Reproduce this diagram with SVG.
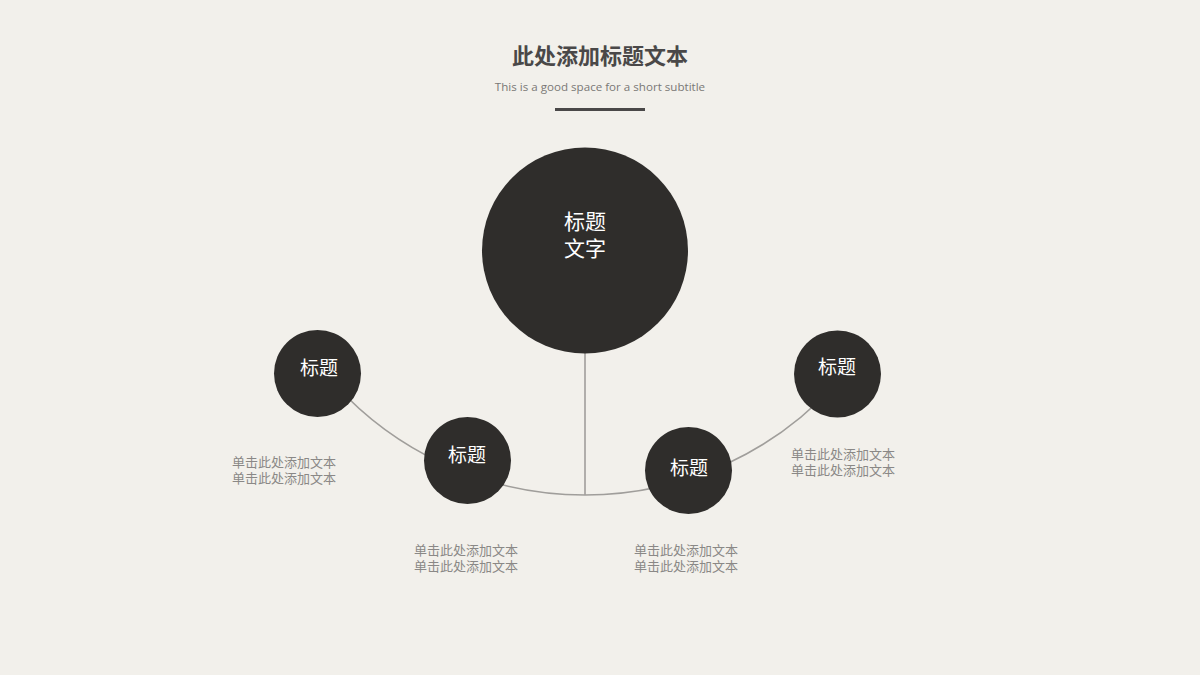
<svg xmlns="http://www.w3.org/2000/svg" width="1200" height="675" viewBox="0 0 1200 675">
<style>
.node{fill:#2f2d2b}
.nt{font-family:"Noto Sans CJK SC","Liberation Sans",sans-serif;fill:#ffffff;text-anchor:middle}
.desc{font-family:"Noto Sans CJK SC","Liberation Sans",sans-serif;font-size:13px;fill:#8a8886;text-anchor:middle}
.conn{fill:none;stroke:#a09e9b;stroke-width:1.6}
</style>
<rect width="1200" height="675" fill="#f2f0eb"/>
<g id="header">
<text x="600" y="64" font-family="'Noto Sans CJK SC','Liberation Sans',sans-serif" font-size="22" font-weight="bold" fill="#4a4848" text-anchor="middle">此处添加标题文本</text>
<text x="600" y="91" font-family="'Open Sans','Liberation Sans',sans-serif" font-size="11.6" fill="#7a7876" text-anchor="middle">This is a good space for a short subtitle</text>
<rect x="555" y="108" width="90" height="3" fill="#4a4848"/>
</g>
<g id="connectors">
<path class="conn" d="M335 384.5 A338 338 0 0 0 835 384.5"/>
<line class="conn" x1="585" y1="350" x2="585" y2="495"/>
</g>
<g id="center">
<circle class="node" cx="585" cy="250.5" r="103"/>
<text class="nt" x="585" y="229" font-size="21">标题</text>
<text class="nt" x="585" y="256" font-size="21">文字</text>
</g>
<g id="node1">
<circle class="node" cx="317.5" cy="373.5" r="43.5"/>
<text class="nt" x="319" y="375" font-size="19">标题</text>
</g>
<g id="node2">
<circle class="node" cx="467.5" cy="460.5" r="43.5"/>
<text class="nt" x="467" y="462" font-size="19">标题</text>
</g>
<g id="node3">
<circle class="node" cx="688.5" cy="470.5" r="43.5"/>
<text class="nt" x="689" y="475" font-size="19">标题</text>
</g>
<g id="node4">
<circle class="node" cx="837.5" cy="374" r="43.5"/>
<text class="nt" x="837" y="374" font-size="19">标题</text>
</g>
<g id="desc1">
<text class="desc" x="284" y="467">单击此处添加文本</text>
<text class="desc" x="284" y="483">单击此处添加文本</text>
</g>
<g id="desc2">
<text class="desc" x="466" y="555">单击此处添加文本</text>
<text class="desc" x="466" y="571">单击此处添加文本</text>
</g>
<g id="desc3">
<text class="desc" x="686" y="555">单击此处添加文本</text>
<text class="desc" x="686" y="571">单击此处添加文本</text>
</g>
<g id="desc4">
<text class="desc" x="843" y="459">单击此处添加文本</text>
<text class="desc" x="843" y="475">单击此处添加文本</text>
</g>
</svg>
